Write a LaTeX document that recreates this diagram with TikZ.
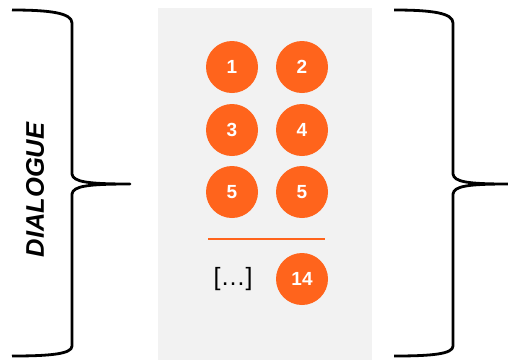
\documentclass[tikz,border=0pt]{standalone}
\usepackage{fontspec}
\setmainfont{Liberation Sans}
\definecolor{orng}{RGB}{255,100,28}
\definecolor{panel}{RGB}{242,242,242}
\begin{document}
\begin{tikzpicture}[x=1pt,y=-1pt,
  num/.style={circle,fill=orng,minimum size=52pt,inner sep=0pt,text=white,font=\fontsize{19}{19}\selectfont\bfseries},
  bracepath/.style={line width=2.8pt,line join=round}]
\useasboundingbox (0,0) rectangle (508,360);
\fill[panel] (158,8) rectangle (372,360);
\node[num] (n1) at (232,67) {1};
\node[num] (n2) at (302,67) {2};
\node[num] (n3) at (232,130) {3};
\node[num] (n4) at (302,130) {4};
\node[num] (n5) at (232,192) {5};
\node[num] (n6) at (302,192) {5};
\node[num] (n14) at (302,279) {14};
\coordinate (la) at (208,239);
\coordinate (lb) at (325,239);
\draw[orng,line width=1.4pt] (la) -- (lb);
\node (dots) at (233,279) {\fontsize{25}{25}\selectfont[…]};
\node[rotate=90,font=\fontsize{25.5}{25.5}\selectfont\bfseries\itshape] (dlg) at (35,190) {DIALOGUE};
\draw[bracepath] (12,10) .. controls (50,10) and (72,13) .. (72,23) -- (72,174)
  .. controls (73,182) and (88,184) .. (130,184)
  .. controls (88,184) and (73,186) .. (72,194) -- (72,346)
  .. controls (72,354) and (50,356) .. (12,356);
\draw[bracepath] (394,10) .. controls (432,10) and (453,13) .. (453,23) -- (453,174)
  .. controls (454,182) and (468,184) .. (508,184)
  .. controls (468,184) and (454,186) .. (453,194) -- (453,346)
  .. controls (453,354) and (432,356) .. (394,356);
\end{tikzpicture}
\end{document}
